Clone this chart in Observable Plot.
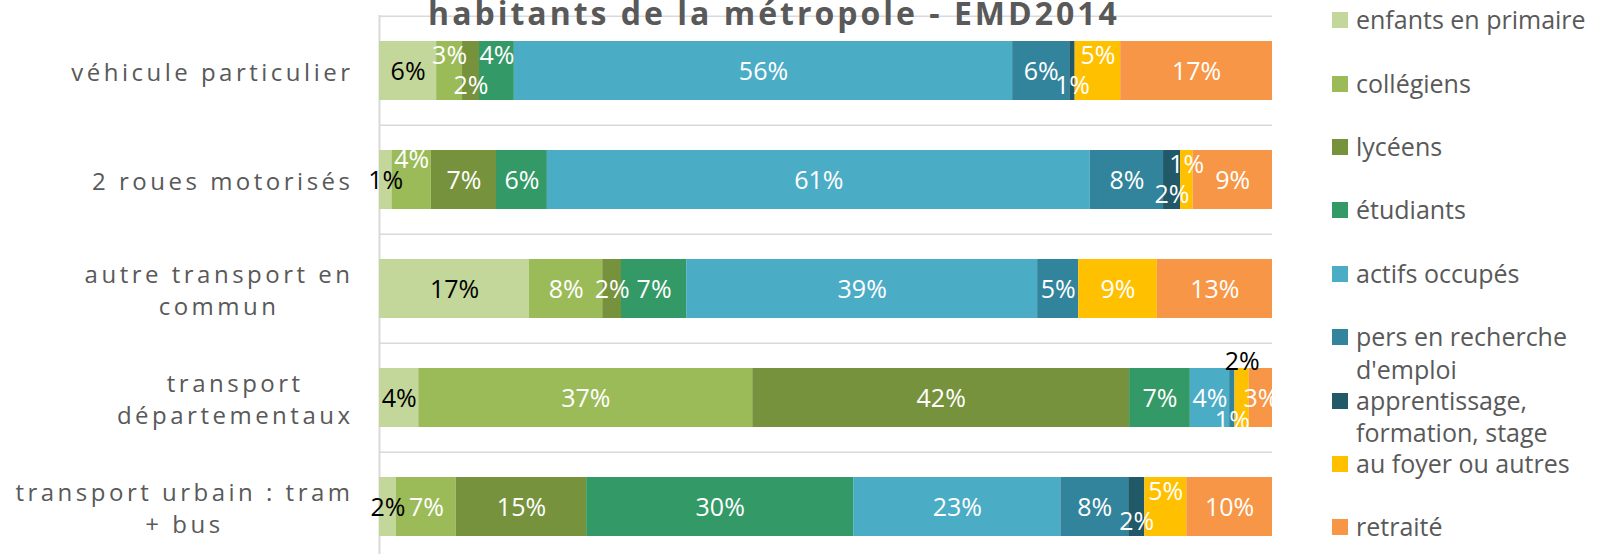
<!DOCTYPE html>
<html><head><meta charset="utf-8">
<script src="https://cdn.jsdelivr.net/npm/d3@7"></script>
<script src="https://cdn.jsdelivr.net/npm/@observablehq/plot@0.6"></script>
<style>
body{margin:0;background:#fff;overflow:hidden}
#wrap{position:relative;width:1602px;height:554px;overflow:hidden;font-family:"Open Sans",sans-serif;background:#fff}
#wrap svg{position:absolute;left:0;top:0}
#title{position:absolute;left:0;width:1548px;top:-5px;text-align:center;font-weight:700;font-size:32px;letter-spacing:3px;color:#595959;white-space:nowrap;line-height:36px}
.leg{position:absolute;left:1332px;width:270px;font-size:25px;color:#595959;line-height:32.5px}
.sw{position:absolute;left:0;width:16px;height:16px}
.lt{position:absolute;left:24px;width:248px}
</style></head><body><div id="wrap"><div id="title">habitants de la métropole - EMD2014</div></div>
<script>
// ---- data ----
const modes = ["véhicule particulier", "2 roues motorisés", "autre transport en commun", "transport départementaux", "transport urbain : tram + bus"];
const groups = ["enfants en primaire", "collégiens", "lycéens", "étudiants", "actifs occupés", "pers en recherche d'emploi", "apprentissage, formation, stage", "au foyer ou autres", "retraité"];
const colors = ["#C4D79B", "#9BBB59", "#76923C", "#339966", "#4BACC6", "#31849B", "#215968", "#FFC000", "#F79646"];
const vehiculeParticulier = [6.4, 2.9, 1.9, 3.9, 55.8, 6.4, 0.6, 5.1, 17.0];
const deuxRoues = [1.4, 4.4, 7.3, 5.7, 60.8, 8.2, 1.9, 1.4, 8.9];
const autreTC = [16.8, 8.2, 2.1, 7.3, 39.3, 4.6, 0, 8.8, 12.9];
const departementaux = [4.4, 37.4, 42.2, 6.8, 4.4, 0.6, 0, 1.6, 2.6];
const tramBus = [1.9, 6.7, 14.6, 29.9, 23.2, 7.6, 1.8, 4.7, 9.6];
const series = [vehiculeParticulier, deuxRoues, autreTC, departementaux, tramBus];

// ---- table ----
const table = [];
modes.forEach((m, i) => {
  let acc = 0;
  series[i].forEach((v, j) => {
    table.push({mode: m, group: groups[j], gi: j, value: v, mid: acc + v / 2, level: 0});
    acc += v;
  });
});

// ---- layout ----
const W = 1602, H = 554, ML = 379, MR = 330, MT = 15;
const yRange = [MT, 562];
const step = (yRange[1] - yRange[0]) / modes.length;
const pxPer = (W - MR - ML) / 100;
const fmt = v => Math.round(v) + "%";
const labelW = d => 16 * String(Math.round(d.value)).length + 18;
const overlaps = (a, b) => Math.abs(b.mid - a.mid) * pxPer < (labelW(a) + labelW(b)) / 2;

// simple label collision handling (alternate up/down in crowded clusters)
modes.forEach(m => {
  const L = table.filter(d => d.mode === m && d.value > 0);
  const clusters = [];
  let cur = [L[0]];
  for (let k = 1; k < L.length; k++) {
    if (overlaps(L[k - 1], L[k])) cur.push(L[k]); else { clusters.push(cur); cur = [L[k]]; }
  }
  clusters.push(cur);
  clusters.forEach(c => {
    if (c.length < 2) return;
    let movable = c.filter(d => d !== L[0] && d !== L[L.length - 1]);
    if (movable.length > 1) {
      const f = movable[0];
      const idx = L.indexOf(f);
      const prev = L[idx - 1];
      const fits = f.value * pxPer >= labelW(f);
      if (fits && !(prev && prev.level === 0 && overlaps(prev, f))) movable = movable.slice(1);
    }
    let s = -1;
    for (let k = movable.length - 1; k >= 0; k--) { movable[k].level = s; s = -s; }
  });
  // labels still crowded by centred labels are pushed further out
  L.forEach(d => {
    if (d.level === 0) return;
    const n = L.filter(o => o !== d && o.level === 0 && overlaps(o, d)).length;
    if (d.level === -1) d.level = n >= 2 ? -3 : n === 1 ? -2 : -1;
    else if (d.level === 1 && n >= 2) d.level = 2;
  });
});

function wrapLabel(s, max = 23) {
  const words = s.split(" "); const lines = []; let line = "";
  for (const w of words) {
    if (line && (line + " " + w).length > max) { lines.push(line); line = w; }
    else line = line ? line + " " + w : w;
  }
  lines.push(line);
  return lines.join("\n");
}

const lvlDy = {"-3": -36, "-2": -20, "-1": -15, "0": 1, "1": 15, "2": 23};
const valueMarks = [];
[-3, -2, -1, 0, 1, 2].forEach(l => {
  [[true, "#000000"], [false, "#ffffff"]].forEach(([dark, col]) => {
    valueMarks.push(Plot.text(table.filter(d => d.value > 0 && d.level === l && (d.gi === 0 || d.level === -3) === dark), {
      x: "mid", y: "mode", text: d => fmt(d.value), fill: col, fontSize: 25, dy: lvlDy[l]
    }));
  });
});

const chart = Plot.plot({
  width: W, height: H,
  marginLeft: ML, marginRight: MR, marginTop: MT, marginBottom: 0,
  x: {domain: [0, 100], axis: null},
  y: {domain: modes, range: yRange, padding: 0, axis: null},
  color: {domain: groups, range: colors},
  style: {fontFamily: '"Open Sans", sans-serif', background: "transparent", overflow: "visible"},
  marks: [
    Plot.text(modes, {y: d => d, text: d => wrapLabel(d), frameAnchor: "left", dx: -26, textAnchor: "end",
      fontSize: 24, fill: "#595959", lineHeight: 32 / 24, lineAnchor: "middle"}),
    Plot.ruleY(modes, {y: d => d, dy: -step / 2, x1: 0, x2: 100, stroke: "#d9d9d9", strokeWidth: 1.5}),
    Plot.ruleX([0], {stroke: "#d9d9d9", strokeWidth: 2}),
    Plot.barX(table, Plot.stackX({x: "value", y: "mode", fill: "group", insetTop: 25, insetBottom: 25})),
    ...valueMarks
  ]
});

const wrap = document.getElementById("wrap");
wrap.insertBefore(chart, wrap.firstChild);

// letter-spaced, centered multi-line category labels
const labelG = chart.querySelectorAll('g[aria-label="text"]')[0];
labelG.style.letterSpacing = "3.5px";
labelG.querySelectorAll("text").forEach(t => {
  const spans = t.querySelectorAll("tspan");
  if (spans.length < 2) return;
  const w = Math.max(...[...spans].map(s => s.getComputedTextLength()));
  spans.forEach(s => { s.setAttribute("x", -w / 2); s.setAttribute("text-anchor", "middle"); });
});

// legend
groups.forEach((g, i) => {
  const yc = 19.5 + i * 63.4;
  const item = document.createElement("div");
  item.className = "leg";
  item.style.top = (yc - 16.25) + "px";
  const sw = document.createElement("div");
  sw.className = "sw"; sw.style.background = colors[i]; sw.style.top = "9px";
  const lt = document.createElement("div");
  lt.className = "lt"; lt.textContent = g;
  item.appendChild(sw); item.appendChild(lt);
  wrap.appendChild(item);
});
</script></body></html>
